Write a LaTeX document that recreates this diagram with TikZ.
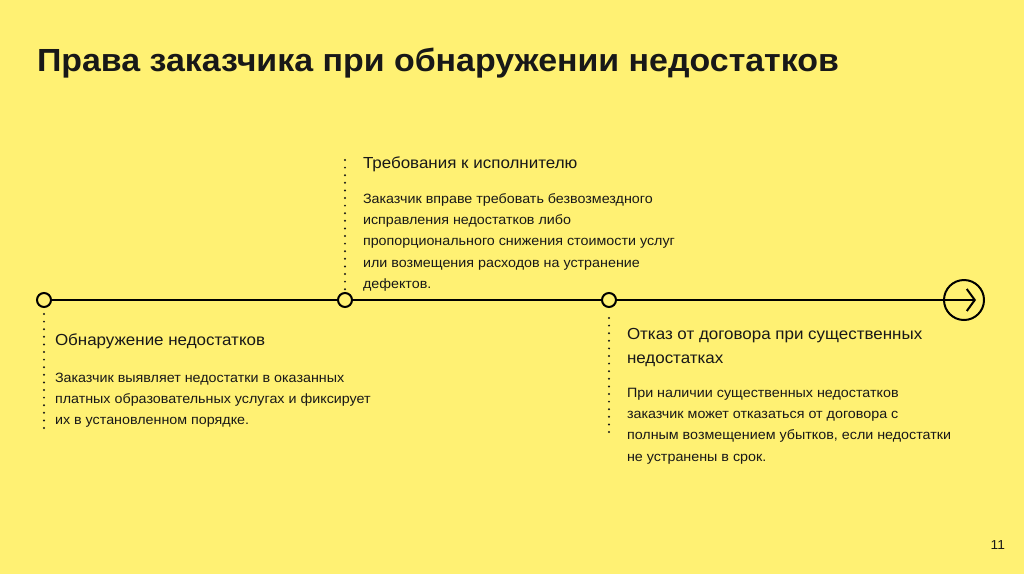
\documentclass[tikz,border=0pt]{standalone}
\usepackage{fontspec}
\setmainfont[FakeStretch=1.06]{Liberation Sans}
\usetikzlibrary{arrows.meta}
\definecolor{bgyellow}{RGB}{255,241,115}
\definecolor{txt}{RGB}{24,24,24}
\begin{document}
\begin{tikzpicture}[x=1pt,y=-1pt,
  every node/.style={inner sep=0pt,outer sep=0pt,text=txt},
  dot/.style={circle,draw=black,fill=bgyellow,line width=2pt,minimum size=14pt},
  dotline/.style={line width=2.2pt,line cap=round,dash pattern=on 0pt off 7.6pt,draw=txt},
  tline/.style={line width=2pt,draw=black},
  head/.style={anchor=base west,align=left,font=\fontsize{16}{24}\selectfont},
  body/.style={anchor=base west,align=left,font=\fontsize{13.5}{21.4}\selectfont}]
\fill[bgyellow] (0,0) rectangle (1024,574);
\useasboundingbox (0,0) rectangle (1024,574);
\node[anchor=base west,font=\fontsize{32}{36}\selectfont\bfseries] (title) at (37,71) {Права заказчика при обнаружении недостатков};
% timeline
\node[dot] (c1) at (44,300) {};
\node[dot] (c2) at (345,300) {};
\node[dot] (c3) at (609,300) {};
\node[circle,draw=black,line width=2pt,minimum size=40pt] (cend) at (964,300) {};
\coordinate (tip) at (976,300);
\draw[tline] (c1) -- (c2);
\draw[tline] (c2) -- (c3);
\draw[tline,-{Straight Barb[length=8pt,width=22pt,line width=2pt]}] (c3) -- (tip);
% dotted guides
\coordinate (d1a) at (44,314); \coordinate (d1b) at (44,432);
\coordinate (d2a) at (345,160); \coordinate (d2b) at (345,290);
\coordinate (d3a) at (609,318); \coordinate (d3b) at (609,432);
\draw[dotline] (d1a) -- (d1b);
\draw[dotline] (d2a) -- (d2b);
\draw[dotline] (d3a) -- (d3b);
% texts (base anchor = baseline of the last line)
\node[head] (h1) at (55,345) {Обнаружение недостатков};
\node[body] (b1) at (55,424.8) {Заказчик выявляет недостатки в оказанных\\платных образовательных услугах и фиксирует\\их в установленном порядке.};
\node[head] (h2) at (363,168) {Требования к исполнителю};
\node[body] (b2) at (363,288.6) {Заказчик вправе требовать безвозмездного\\исправления недостатков либо\\пропорционального снижения стоимости услуг\\или возмещения расходов на устранение\\дефектов.};
\node[head] (h3) at (627,363) {Отказ от договора при существенных\\недостатках};
\node[body] (b3) at (627,461.2) {При наличии существенных недостатков\\заказчик может отказаться от договора с\\полным возмещением убытков, если недостатки\\не устранены в срок.};
\node[anchor=base east,font=\fontsize{13}{15}\selectfont] (pg) at (1005,549) {11};
\end{tikzpicture}
\end{document}
